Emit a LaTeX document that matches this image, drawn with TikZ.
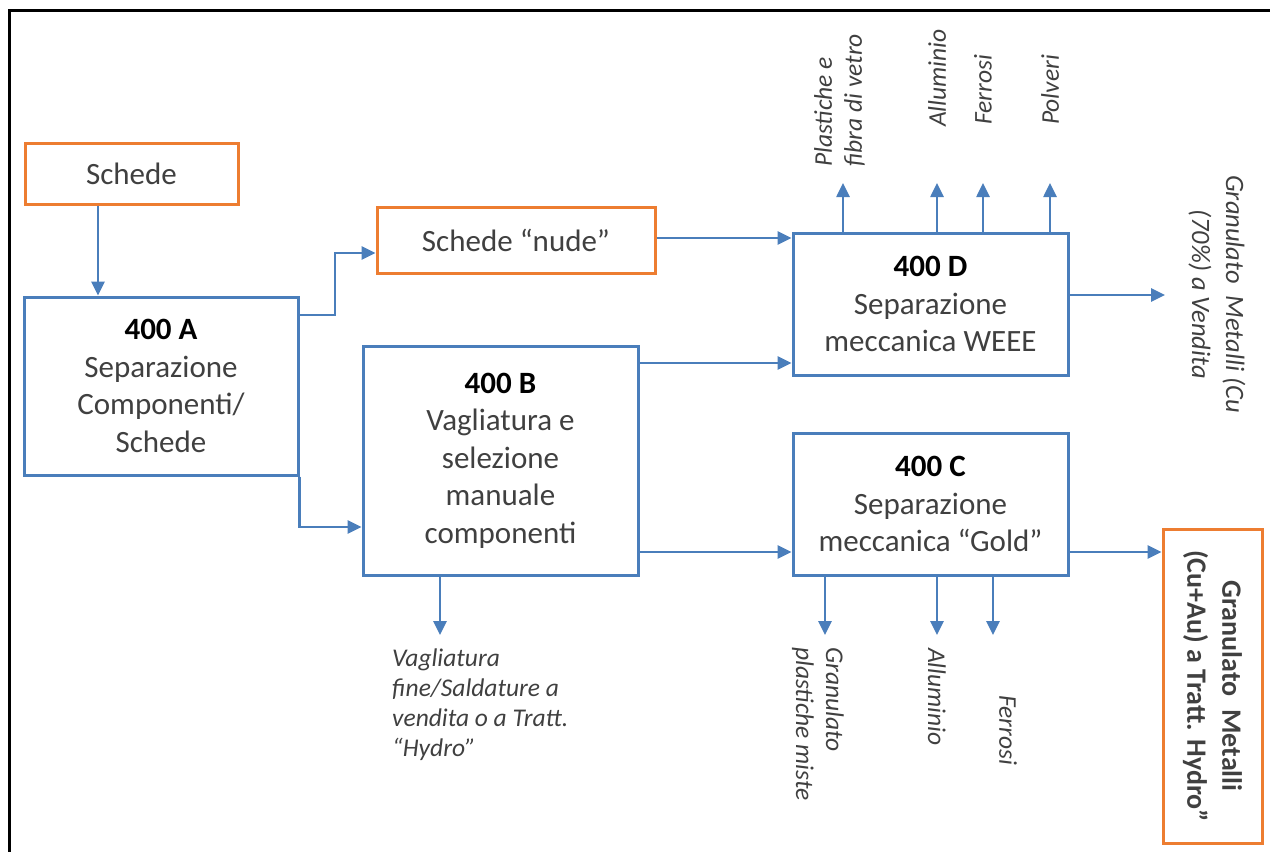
\documentclass[tikz,border=0pt]{standalone}
\usepackage{fontspec}
\setmainfont{Carlito}
\usetikzlibrary{arrows.meta}
\definecolor{lnblue}{HTML}{4A7EBB}
\definecolor{boxorange}{HTML}{ED7D31}
\definecolor{txtgray}{HTML}{404040}
\newcommand\boxhead[1]{{\color{black}\bfseries #1}}
\begin{document}
\begin{tikzpicture}[x=1pt,y=-1pt,
  bluebox/.style={draw=lnblue,line width=3pt,fill=white,align=center,inner sep=0pt,
    text=txtgray,font=\fontsize{31}{37.5}\selectfont},
  orangebox/.style={draw=boxorange,line width=3pt,fill=white,align=center,inner sep=0pt,
    text=txtgray,font=\fontsize{31}{37.5}\selectfont},
  flow/.style={draw=lnblue,line width=2.6pt,-{Triangle[length=14pt,width=13pt]}},
  lbl/.style={font=\fontsize{25.5}{30}\selectfont\itshape,text=txtgray,inner sep=0pt},
  lblr/.style={font=\fontsize{26.5}{34}\selectfont\itshape,text=txtgray,inner sep=0pt},
  outtxt/.style={font=\fontsize{28}{35}\selectfont\bfseries,text=txtgray,inner sep=0pt,align=center}]
\path[use as bounding box] (0,0) rectangle (1270,852);
\draw[line width=3pt] (9,852) -- (9,10) -- (1271,10);

% boxes
\node[orangebox,minimum width=213pt,minimum height=61pt] (sch) at (131.5,173.5) {Schede};
\node[bluebox,minimum width=274pt,minimum height=178pt] (A) at (161,386)
  {\boxhead{400 A}\\Separazione\\Componenti/\\Schede};
\node[orangebox,minimum width=278pt,minimum height=66pt] (nude) at (516,240) {Schede “nude”};
\node[bluebox,minimum width=275pt,minimum height=229pt] (B) at (500.5,460.5)
  {\boxhead{400 B}\\Vagliatura e\\selezione\\manuale\\componenti};
\node[bluebox,minimum width=275pt,minimum height=142pt] (D) at (930.5,304)
  {\boxhead{400 D}\\Separazione\\meccanica WEEE};
\node[bluebox,minimum width=275pt,minimum height=142pt] (C) at (930.5,504)
  {\boxhead{400 C}\\Separazione\\meccanica “Gold”};
\node[orangebox,minimum width=99pt,minimum height=314pt] (out) at (1212.5,686) {};
\node[outtxt,rotate=-90] (outlabel) at (out.center) {Granulato\ \ Metalli\\(Cu+Au) a Tratt. Hydro”};

% helper coordinates
\coordinate (x98) at (98,0);
\coordinate (x335) at (335,0);
\coordinate (y315) at (0,315);
\coordinate (y527) at (0,527);
\coordinate (y552) at (0,552);
\coordinate (y295) at (0,295);
\coordinate (y363) at (0,363);
\coordinate (y238) at (0,238);
\coordinate (y253) at (0,253);
\coordinate (uptop) at (0,183);
\coordinate (dnbot) at (0,635);
\coordinate (outD) at (1165,295);

% connectors
\draw[flow] (sch.south -| x98) -- (A.north -| x98);
\draw[flow] (A.east |- y315) -- (x335 |- y315) -- (x335 |- y253) -- (nude.west |- y253);
\draw[flow] (A.south east) -- (A.east |- y527) -- (B.west |- y527);
\draw[flow] (nude.east |- y238) -- (D.west |- y238);
\draw[flow] (B.east |- y363) -- (D.west |- y363);
\draw[flow] (B.east |- y552) -- (C.west |- y552);
\draw[flow] (D.east |- y295) -- (outD);
\draw[flow] (C.east |- y552) -- (out.west |- y552);

\foreach \i/\xx in {1/843,2/937,3/983,4/1050}{
  \coordinate (u\i) at (\xx,0);
  \draw[flow] (D.north -| u\i) -- (uptop -| u\i);
}
\foreach \i/\xx in {1/825,2/937,3/993}{
  \coordinate (d\i) at (\xx,0);
  \draw[flow] (C.south -| d\i) -- (dnbot -| d\i);
}
\coordinate (bx) at (440,0);
\draw[flow] (B.south -| bx) -- (dnbot -| bx);

% labels
\node[lbl,rotate=90,anchor=north west,align=left] (lplast) at (814,167) {Plastiche e\\fibra di vetro};
\node[lbl,rotate=90,anchor=west] (lall1) at (937,127) {Alluminio};
\node[lbl,rotate=90,anchor=west] (lfer1) at (983,125) {Ferrosi};
\node[lbl,rotate=90,anchor=west] (lpol) at (1050,125) {Polveri};
\node[lblr,rotate=-90,align=center] (lgran) at (1217,294) {Granulato\ \ Metalli (Cu\\(70\%) a Vendita};
\node[lbl,rotate=-90,anchor=north west,align=left] (lgpl) at (844,647) {Granulato\\plastiche miste};
\node[lbl,rotate=-90,anchor=west] (lall2) at (937,648) {Alluminio};
\node[lbl,rotate=-90,anchor=west] (lfer2) at (1008,695) {Ferrosi};
\node[lbl,anchor=north west,align=left] (lvag) at (392,649) {Vagliatura\\fine/Saldature a\\vendita o a Tratt.\\“Hydro”};
\end{tikzpicture}
\end{document}
